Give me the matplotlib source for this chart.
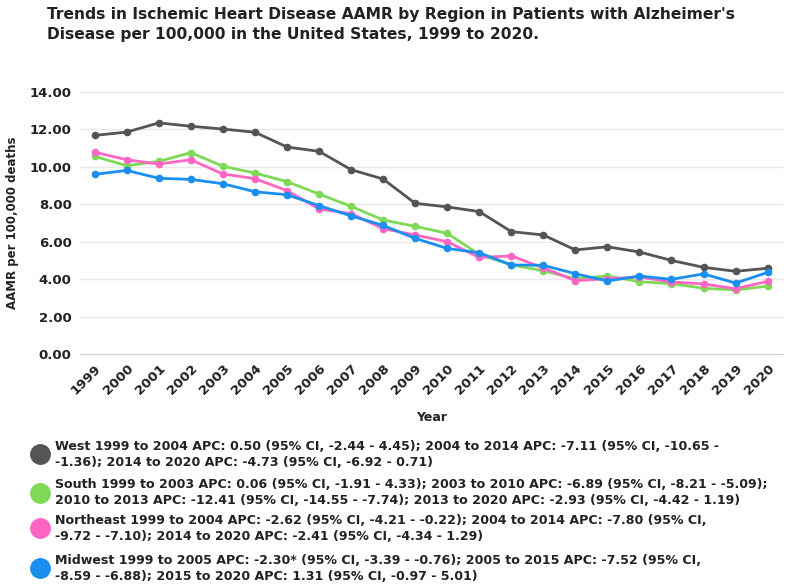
import matplotlib.pyplot as plt
import numpy as np
from matplotlib.lines import Line2D

years = list(range(1999, 2021))

west = [11.68, 11.86, 12.35, 12.17, 12.02, 11.85, 11.06, 10.83, 9.85, 9.35, 8.05,
        7.86, 7.61, 6.54, 6.36, 5.56, 5.73, 5.45, 5.00, 4.63, 4.42, 4.58]
south = [10.56, 10.06, 10.29, 10.76, 10.03, 9.67, 9.21, 8.55, 7.89, 7.16, 6.82,
         6.45, 5.32, 4.76, 4.45, 4.02, 4.17, 3.86, 3.76, 3.51, 3.42, 3.63]
northeast = [10.78, 10.38, 10.15, 10.38, 9.62, 9.37, 8.73, 7.75, 7.50, 6.70, 6.36,
             6.00, 5.16, 5.24, 4.60, 3.92, 4.02, 4.11, 3.85, 3.74, 3.49, 3.88]
midwest = [9.60, 9.81, 9.39, 9.33, 9.10, 8.67, 8.51, 7.93, 7.38, 6.87, 6.18,
           5.64, 5.41, 4.76, 4.74, 4.29, 3.90, 4.17, 3.99, 4.28, 3.79, 4.36]

legend_texts = [
    "West 1999 to 2004 APC: 0.50 (95% CI, -2.44 - 4.45); 2004 to 2014 APC: -7.11 (95% CI, -10.65 -\n"
    "-1.36); 2014 to 2020 APC: -4.73 (95% CI, -6.92 - 0.71)",
    "South 1999 to 2003 APC: 0.06 (95% CI, -1.91 - 4.33); 2003 to 2010 APC: -6.89 (95% CI, -8.21 - -5.09);\n"
    "2010 to 2013 APC: -12.41 (95% CI, -14.55 - -7.74); 2013 to 2020 APC: -2.93 (95% CI, -4.42 - 1.19)",
    "Northeast 1999 to 2004 APC: -2.62 (95% CI, -4.21 - -0.22); 2004 to 2014 APC: -7.80 (95% CI,\n"
    "-9.72 - -7.10); 2014 to 2020 APC: -2.41 (95% CI, -4.34 - 1.29)",
    "Midwest 1999 to 2005 APC: -2.30* (95% CI, -3.39 - -0.76); 2005 to 2015 APC: -7.52 (95% CI,\n"
    "-8.59 - -6.88); 2015 to 2020 APC: 1.31 (95% CI, -0.97 - 5.01)",
]

colors = ['#555555', '#7ed957', '#ff66c4', '#1a8fef']
series = [west, south, northeast, midwest]

plt.rcParams['font.family'] = ['DejaVu Sans']
dark = '#222222'

fig = plt.figure(figsize=(7.89, 5.86), dpi=100)
ax = fig.add_axes([80 / 789, 1 - 354 / 586, (783 - 80) / 789, (354 - 92) / 586])

for data, c in zip(series, colors):
    ax.plot(years, data, color=c, lw=2, marker='o', ms=4.5, zorder=3)

ax.set_ylim(0, 14)
ax.set_xlim(1998.54, 2020.48)
ax.set_yticks(np.arange(0, 14.1, 2))
ax.set_yticklabels(['%.2f' % v for v in np.arange(0, 14.1, 2)])
ax.set_xticks(years)
ax.set_xticklabels([str(y) for y in years], rotation=45, ha='right',
                   rotation_mode='anchor')
ax.grid(axis='y', color='#e8e8e8', lw=1)
ax.set_axisbelow(True)
for s in ['top', 'right', 'left']:
    ax.spines[s].set_visible(False)
ax.spines['bottom'].set_color('#cccccc')
ax.tick_params(length=0, labelsize=9.5, colors=dark, pad=6)
for lab in ax.get_xticklabels() + ax.get_yticklabels():
    lab.set_fontweight('bold')
ax.set_ylabel('AAMR per 100,000 deaths', fontsize=8.5, fontweight='bold',
              color=dark, labelpad=8)
ax.set_xlabel('Year', fontsize=9, fontweight='bold', color=dark, labelpad=10)

fig.text(47 / 789, 1 - 7 / 586,
         "Trends in Ischemic Heart Disease AAMR by Region in Patients with Alzheimer's\n"
         "Disease per 100,000 in the United States, 1999 to 2020.",
         fontsize=11.2, fontweight='bold', color=dark, va='top', ha='left',
         linespacing=1.4)

ys = [454, 493, 528, 568]
for y, c, t in zip(ys, colors, legend_texts):
    fig.add_artist(Line2D([40 / 789], [1 - y / 586], marker='o', ms=14,
                          color=c, transform=fig.transFigure))
    fig.text(55 / 789, 1 - y / 586, t, fontsize=9.1, fontweight='bold',
             color=dark, va='center', ha='left', linespacing=1.3)

fig.savefig('out.png', dpi=100)
